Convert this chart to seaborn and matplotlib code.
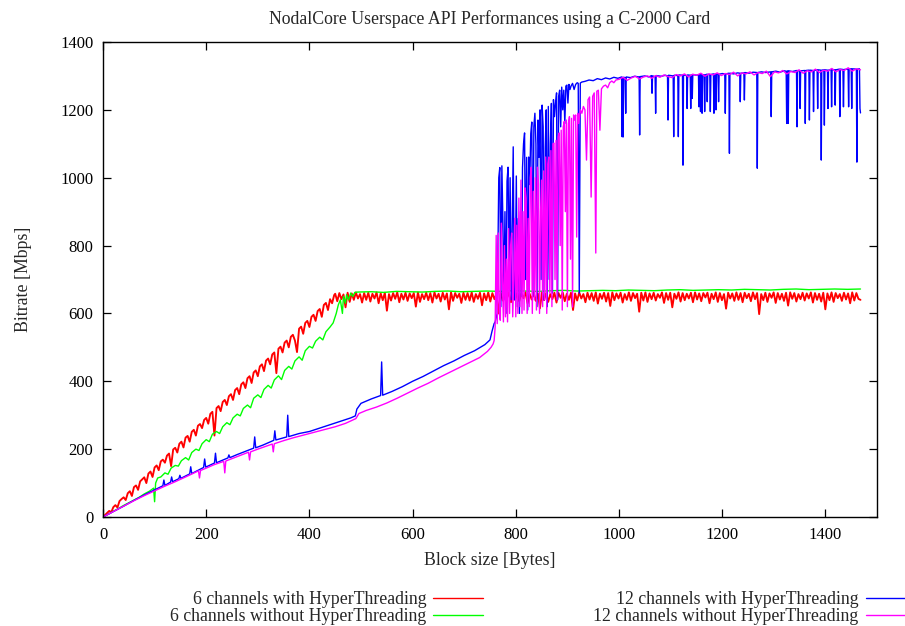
import numpy as np
import pandas as pd
import matplotlib
matplotlib.use("Agg")
import matplotlib.pyplot as plt
from matplotlib.lines import Line2D
import seaborn as sns

# ---------------- data ----------------
labels = ["6 channels with HyperThreading", "6 channels without HyperThreading",
          "12 channels with HyperThreading", "12 channels without HyperThreading"]
colors = ["#ff0000", "#00ff00", "#0000ff", "#ff00ff"]

# 6 channels with HT : ramp (x 0..448, every 4 bytes) then plateau (450..1468)
red_ramp_y = [0, 6, 12, 18, 14, 29, 35, 28, 47, 53,
              58, 50, 70, 76, 62, 88, 93, 80, 105, 111,
              117, 100, 128, 134, 118, 146, 152, 138, 164, 169,
              160, 181, 187, 150, 199, 204, 190, 216, 222, 205,
              234, 239, 222, 251, 257, 240, 269, 274, 262, 286,
              292, 275, 304, 310, 240, 321, 327, 312, 339, 345,
              330, 356, 362, 345, 374, 380, 362, 391, 397, 380,
              409, 415, 395, 426, 432, 415, 444, 450, 430, 461,
              467, 450, 479, 485, 424, 496, 502, 485, 514, 520,
              500, 531, 537, 520, 486, 555, 561, 540, 572, 578,
              560, 590, 596, 578, 607, 613, 590, 625, 631, 610,
              642, 630, 654]
red_plateau_y = [
    658, 636, 660, 642, 656, 618, 661, 634, 659, 640, 662, 644, 657, 632, 660,
    640, 661, 635, 658, 644, 662, 630, 659, 639, 661, 608, 657, 638, 660, 643,
    662, 633, 658, 641, 661, 637, 659, 645, 660, 620, 662, 634, 657, 642, 661,
    639, 660, 632, 662, 644, 658, 635, 661, 641, 659, 612, 662, 637, 660, 646,
    658, 631, 661, 640, 660, 638, 662, 634, 657, 643, 661, 624, 659, 639, 662,
    635, 660, 642, 658, 600, 661, 638, 659, 644, 662, 633, 657, 640, 661, 636,
    660, 645, 662, 630, 658, 641, 661, 637, 659, 615, 662, 639, 660, 634, 657,
    642, 661, 632, 660, 646, 662, 636, 658, 640, 661, 610, 659, 638, 662, 644,
    657, 633, 661, 641, 660, 637, 662, 629, 658, 643, 661, 635, 660, 622, 662,
    639, 659, 644, 661, 632, 657, 640, 662, 637, 660, 645, 658, 605, 661, 638,
    662, 634, 659, 642, 661, 638, 657, 646, 662, 631, 660, 640, 661, 618, 658,
    643, 662, 635, 660, 639, 658, 644, 661, 633, 662, 641, 659, 636, 660, 647,
    661, 630, 658, 642, 662, 634, 660, 639, 657, 614, 661, 644, 659, 637, 662,
    640, 660, 633, 661, 645, 658, 636, 662, 642, 660, 598, 657, 639, 661, 634,
    659, 646, 662, 631, 660, 641, 658, 637, 661, 623, 662, 643, 660, 635, 657,
    642, 661, 638, 659, 644, 662, 632, 660, 640, 658, 635, 661, 612, 659, 639,
    662, 634, 660, 645, 657, 637, 661, 641, 659, 630, 662, 638, 660, 643, 640]

# 6 channels without HT
green_ramp = [(0, 0), (10, 8), (20, 17), (30, 25), (40, 34), (50, 42), (60, 50), (70, 58), (80, 68),
              (90, 76), (98, 85), (100, 45), (102, 100), (106, 115), (112, 118), (120, 130),
              (126, 126), (132, 144), (140, 152), (146, 150), (152, 166), (160, 175), (166, 168),
              (172, 190), (180, 200), (186, 196), (192, 216), (200, 228), (206, 222), (212, 244),
              (220, 252), (226, 246), (232, 266), (240, 278), (246, 272), (252, 292), (260, 303),
              (266, 298), (272, 320), (280, 330), (286, 322), (292, 350), (300, 360), (306, 352),
              (312, 376), (320, 388), (326, 380), (332, 404), (340, 416), (346, 405), (352, 432),
              (360, 444), (366, 436), (372, 460), (380, 472), (386, 462), (392, 490), (400, 503),
              (406, 498), (412, 518), (420, 530), (426, 522), (432, 546), (440, 560), (446, 572),
              (452, 600), (456, 625), (460, 640), (464, 600), (466, 650), (470, 630), (472, 655),
              (476, 640), (480, 660), (484, 650), (488, 662)]
green_plateau_y = [663, 664, 662, 665, 664, 663, 665, 666, 664, 665,
                   666, 665, 667, 666, 665, 667, 668, 666, 667, 668,
                   667, 669, 668, 667, 669, 670, 668, 669, 670, 669,
                   671, 670, 669, 671, 672, 670, 671, 672, 671, 672]

# 12 channels with HT
blue_ramp = [(0, 0), (20, 16), (40, 32), (60, 49), (80, 65), (100, 80), (116, 92), (118, 109), (120, 93),
             (131, 103), (133, 118), (135, 104), (147, 113), (149, 123), (151, 114), (168, 127),
             (170, 148), (172, 128), (195, 146), (197, 171), (199, 147), (216, 159), (218, 188),
             (220, 160), (242, 174), (244, 183), (246, 175), (260, 184), (280, 196), (292, 203),
             (294, 236), (296, 204), (310, 212), (331, 226), (333, 254), (335, 227), (356, 236),
             (358, 300), (360, 237), (380, 246), (400, 252), (420, 262), (440, 272), (460, 282),
             (480, 292), (489, 298), (492, 318), (500, 335), (520, 348), (538, 358), (540, 457),
             (542, 359), (560, 370), (580, 384), (600, 400), (620, 414), (640, 430), (660, 446),
             (680, 460), (700, 476), (720, 490), (740, 508), (750, 522), (754, 548), (758, 570)]
blue_mid = [(760, 575), (764, 600), (767, 1000), (769, 1030), (771, 620), (773, 1035), (775, 870),
            (777, 640), (779, 900), (781, 600), (783, 990), (785, 1031), (787, 700), (789, 1000),
            (791, 640), (793, 850), (795, 1091), (797, 640), (799, 700), (801, 1005), (803, 620),
            (805, 880), (807, 600), (809, 900), (811, 650), (813, 1030), (815, 1100), (817, 1132),
            (819, 700), (821, 1060), (823, 610), (825, 1061), (827, 980), (829, 1130), (831, 1164),
            (833, 650), (835, 1150), (837, 1190), (839, 1100), (841, 620), (843, 1170), (845, 1060),
            (847, 1200), (849, 700), (851, 1214), (853, 1150), (855, 640), (857, 1088), (859, 1200),
            (861, 620), (863, 1210), (865, 700), (867, 1100), (869, 1219), (871, 660), (873, 1230),
            (875, 1180), (877, 1219), (879, 1250), (881, 640), (883, 1240), (885, 1258), (887, 1150),
            (889, 1267), (891, 1200), (893, 1258), (895, 1160), (897, 1270), (899, 1273), (901, 1220),
            (903, 1275), (905, 1260), (907, 1270), (910, 1278), (913, 1260), (916, 1275), (919, 1280),
            (921, 1278), (923, 660), (925, 1279), (928, 1282)]
blue_top = [(934, 1284), (942, 1288), (950, 1286), (958, 1292), (966, 1289), (974, 1294), (982, 1291),
            (990, 1296), (998, 1293), (1005, 1297), (1006, 1121), (1007, 1296), (1008, 1120),
            (1009, 1296), (1012, 1295), (1013, 1190), (1014, 1297), (1022, 1295), (1030, 1299),
            (1039, 1297), (1040, 1126), (1041, 1298), (1050, 1300), (1058, 1297), (1063, 1301),
            (1064, 1249), (1065, 1300), (1070, 1298), (1071, 1190), (1072, 1301), (1082, 1299),
            (1090, 1302), (1094, 1300), (1095, 1170), (1096, 1302), (1105, 1300), (1106, 1121),
            (1107, 1302), (1114, 1301), (1115, 1121), (1116, 1303), (1123, 1302), (1124, 1037),
            (1125, 1303), (1131, 1301), (1132, 1204), (1133, 1303), (1138, 1302), (1139, 1204),
            (1140, 1303), (1141, 1302), (1142, 1234), (1143, 1304), (1150, 1302), (1154, 1303),
            (1155, 1209), (1156, 1304), (1157, 1303), (1158, 1195), (1159, 1303), (1160, 1304),
            (1161, 1190), (1162, 1304), (1165, 1303), (1166, 1195), (1167, 1303), (1170, 1305),
            (1171, 1224), (1172, 1305), (1176, 1304), (1177, 1195), (1178, 1304), (1183, 1306),
            (1184, 1190), (1185, 1305), (1187, 1306), (1188, 1200), (1189, 1306), (1192, 1305),
            (1193, 1224), (1194, 1305), (1200, 1307), (1205, 1306), (1206, 1190), (1207, 1306),
            (1213, 1308), (1214, 1072), (1215, 1308), (1222, 1306), (1230, 1309), (1234, 1308),
            (1235, 1224), (1236, 1308), (1242, 1309), (1243, 1229), (1244, 1310), (1252, 1308),
            (1260, 1311), (1267, 1310), (1268, 1028), (1269, 1310), (1276, 1312), (1284, 1310),
            (1294, 1312), (1295, 1180), (1296, 1312), (1304, 1314), (1312, 1311), (1320, 1315),
            (1324, 1314), (1325, 1160), (1326, 1314), (1327, 1315), (1328, 1160), (1329, 1315),
            (1336, 1313), (1344, 1316), (1345, 1150), (1346, 1316), (1350, 1315), (1351, 1204),
            (1352, 1315), (1360, 1316), (1361, 1160), (1362, 1316), (1368, 1317), (1369, 1170),
            (1370, 1317), (1376, 1316), (1377, 1195), (1378, 1316), (1384, 1318), (1385, 1204),
            (1386, 1318), (1391, 1317), (1392, 1052), (1393, 1317), (1397, 1318), (1398, 1155),
            (1399, 1318), (1404, 1317), (1405, 1204), (1406, 1317), (1411, 1319), (1412, 1209),
            (1413, 1319), (1418, 1318), (1419, 1214), (1420, 1318), (1427, 1320), (1428, 1180),
            (1429, 1320), (1434, 1319), (1435, 1209), (1436, 1319), (1444, 1320), (1445, 1209),
            (1446, 1320), (1450, 1321), (1451, 1204), (1452, 1321), (1460, 1320), (1461, 1046),
            (1462, 1320), (1466, 1321), (1467, 1204), (1468, 1191)]

# 12 channels without HT
magenta_ramp = [(0, 0), (20, 16), (40, 32), (60, 48), (80, 63), (100, 77), (120, 91), (140, 104),
                (160, 118), (185, 136), (187, 115), (189, 137), (200, 144), (215, 154), (234, 164),
                (236, 130), (238, 165), (255, 175), (270, 184), (282, 191), (284, 168), (286, 192),
                (300, 200), (315, 208), (328, 215), (330, 192), (332, 216), (350, 225), (370, 234),
                (390, 242), (410, 250), (430, 258), (450, 266), (470, 276), (490, 290), (496, 305),
                (510, 314), (530, 324), (550, 336), (570, 350), (590, 365), (610, 380), (630, 394),
                (650, 410), (670, 425), (690, 440), (710, 455), (730, 470), (745, 488), (752, 500),
                (756, 510)]
magenta_mid = [(758, 520), (760, 560), (762, 830), (764, 570), (766, 837), (768, 600), (770, 580),
               (772, 866), (774, 700), (776, 575), (778, 800), (780, 590), (782, 760), (784, 575),
               (786, 850), (788, 600), (790, 800), (792, 837), (794, 590), (796, 700), (798, 880),
               (800, 590), (802, 860), (804, 600), (806, 940), (808, 620), (810, 993), (812, 600),
               (814, 900), (816, 610), (818, 970), (820, 940), (822, 600), (824, 880), (826, 620),
               (828, 1000), (830, 1031), (832, 600), (834, 960), (836, 640), (838, 1000), (840, 610),
               (842, 1031), (844, 980), (846, 600), (848, 900), (850, 993), (852, 620), (854, 1020),
               (856, 640), (858, 1061), (860, 600), (862, 1040), (864, 1061), (866, 660), (868, 1080),
               (870, 620), (872, 1100), (874, 1102), (876, 700), (878, 1110), (880, 640), (882, 1120),
               (884, 1132), (886, 800), (888, 1140), (890, 610), (892, 1150), (894, 1166), (896, 900),
               (898, 1170), (900, 620), (902, 1160), (904, 1180), (906, 760), (908, 1175), (910, 619),
               (912, 1185), (914, 1170), (916, 1185), (918, 825), (920, 1190), (922, 1160), (925, 1200),
               (928, 1190), (931, 1210), (934, 1200), (937, 1052), (940, 1230), (943, 1238), (946, 943),
               (949, 1240), (952, 1250), (955, 778), (957, 1255), (960, 1258), (963, 1140), (966, 1262),
               (970, 1270), (974, 1273), (978, 1265), (982, 1280), (986, 1285), (990, 1280), (994, 1288)]
magenta_top_y = [1290, 1296, 1287, 1294, 1299, 1291, 1297, 1300, 1293, 1301,
                 1296, 1303, 1298, 1295, 1304, 1300, 1306, 1297, 1305, 1302,
                 1308, 1299, 1306, 1303, 1309, 1301, 1307, 1304, 1311, 1300,
                 1309, 1306, 1312, 1303, 1310, 1307, 1314, 1298, 1312, 1309,
                 1316, 1306, 1313, 1310, 1318, 1308, 1315, 1312, 1320, 1310,
                 1317, 1314, 1322, 1312, 1319, 1316, 1324, 1314, 1321, 1318]

x_ticks = [0, 200, 400, 600, 800, 1000, 1200, 1400]
y_ticks = [0, 200, 400, 600, 800, 1000, 1200, 1400]

# ---------------- assemble ----------------
def seg(pairs):
    return [p[0] for p in pairs], [p[1] for p in pairs]

series = {}
rx = list(np.linspace(0, 448, len(red_ramp_y))) + list(np.linspace(450, 1468, len(red_plateau_y)))
series[labels[0]] = (rx, red_ramp_y + red_plateau_y)
gx, gy = seg(green_ramp)
gx += list(np.linspace(494, 1468, len(green_plateau_y)))
gy += green_plateau_y
series[labels[1]] = (gx, gy)
bx, by = seg(blue_ramp + blue_mid + blue_top)
series[labels[2]] = (bx, by)
mx, my = seg(magenta_ramp + magenta_mid)
mx += list(np.linspace(1000, 1468, len(magenta_top_y)))
my += magenta_top_y
series[labels[3]] = (mx, my)

frames = []
for lab in labels:
    xs, ys = series[lab]
    frames.append(pd.DataFrame({"x": xs, "y": ys, "series": lab}))
df = pd.concat(frames, ignore_index=True)

# ---------------- plot ----------------
sns.set_style("ticks")
plt.rcParams["font.family"] = ["Liberation Serif", "DejaVu Serif"]
plt.rcParams["font.size"] = 12

TXT = 12.8
fig = plt.figure(figsize=(9.05, 6.26), dpi=100)
ax = fig.add_axes([103 / 905, 1 - 517 / 626, (877 - 103) / 905, (517 - 42) / 626])

sns.lineplot(data=df, x="x", y="y", hue="series", hue_order=labels, palette=colors,
             estimator=None, sort=False, linewidth=1.0, legend=False, ax=ax)
# the dense red series reads as a thicker band in the reference
ax.lines[0].set_linewidth(1.35)

ax.set_xlim(0, 1500)
ax.set_ylim(0, 1400)
ax.set_xticks(x_ticks)
ax.set_yticks(y_ticks)
ax.tick_params(direction="in", length=6, width=0.9, top=True, right=True,
               labelsize=12, colors="black", pad=7)
for s in ax.spines.values():
    s.set_linewidth(1.0)
    s.set_color("black")

ax.set_xlabel("Block size [Bytes]", fontsize=TXT, labelpad=7)
ax.set_ylabel("Bitrate [Mbps]", fontsize=TXT, labelpad=20)
ax.set_title("NodalCore Userspace API Performances using a C-2000 Card", fontsize=TXT, pad=13)

handles = [Line2D([], [], color=c, lw=1.0) for c in colors]
fig.legend(handles, labels, ncol=2, markerfirst=False, frameon=False, fontsize=TXT,
           loc="upper left", bbox_to_anchor=(161 / 905, 1 - 582 / 626),
           bbox_transform=fig.transFigure, borderpad=0, handlelength=2.8, handletextpad=0.4,
           columnspacing=6.2, labelspacing=0.0)

fig.savefig("out.png", dpi=100)
